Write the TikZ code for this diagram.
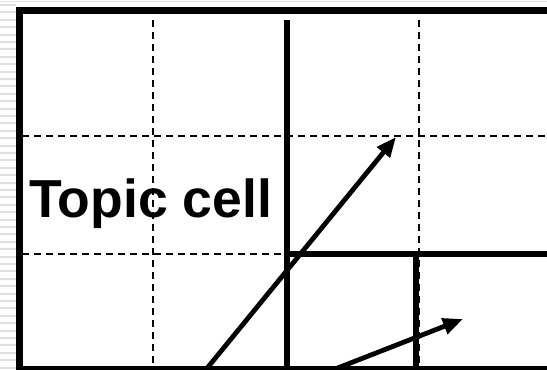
\documentclass[tikz,border=0pt]{standalone}
\usepackage{fontspec}
\setmainfont{Liberation Sans}
\usetikzlibrary{arrows.meta}
\begin{document}
\begin{tikzpicture}[x=1pt,y=-1pt,line cap=butt,line join=miter,
                    gridline/.style={line width=2pt,dash pattern=on 7pt off 5pt},
                    cellwall/.style={line width=6.5pt},
                    move/.style={line width=4.8pt,-{Triangle[length=20pt,width=16pt]}}]
  % page area, everything outside is cut off
  \clip (0,0) rectangle (547,370);
  \fill[white] (0,0) rectangle (547,370);

  % striped slide margin on the left
  \draw[black!12,line width=1.2pt] (0,1.5) -- (547,1.5);
  \foreach \y in {5,12.4,...,370}
    \draw[black!12,line width=2pt] (0,\y) -- (16,\y);

  % dashed cell grid
  \draw[gridline] (153,20) -- (153,372);
  \draw[gridline] (419,20) -- (419,372);
  \draw[gridline] (22,136) -- (550,136);
  \draw[gridline] (22,254) -- (286,254);

  % walls of the topic cell and its sub-cell
  \coordinate (walltop) at (287,20);
  \coordinate (wallbottom) at (287,372);
  \coordinate (corner) at (284,254);
  \coordinate (subright) at (550,254);
  \coordinate (subcorner) at (416,254);
  \coordinate (subbottom) at (416,372);
  \draw[cellwall] (walltop) -- (wallbottom);
  \draw[cellwall] (corner) -- (subright);
  \draw[cellwall] (subcorner) -- (subbottom);

  % outer frame
  \draw[line width=7.5pt] (560,10.5) -- (19.5,10.5) -- (19.5,369.5) -- (560,369.5);

  \node[anchor=base west,inner sep=0pt,font=\bfseries\fontsize{53.5}{60}\selectfont]
    (topic) at (29,217) {Topic cell};

  % moves out of the cell
  \coordinate (tailA) at (204,372);
  \coordinate (tipA) at (396,137);
  \coordinate (tailB) at (330,371);
  \coordinate (tipB) at (463,319);
  \draw[move] (tailA) -- (tipA);
  \draw[move] (tailB) -- (tipB);
\end{tikzpicture}
\end{document}
